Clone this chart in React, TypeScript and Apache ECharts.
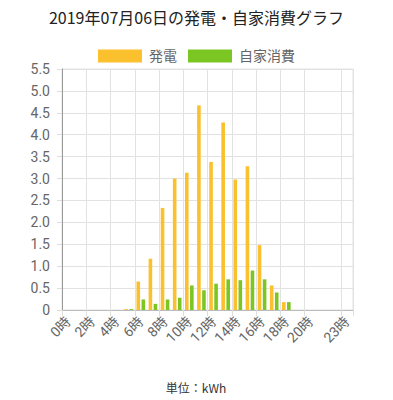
import React, { useEffect, useRef } from "react";
import * as echarts from "echarts";

const hours = [
  "0時", "1時", "2時", "3時", "4時", "5時", "6時", "7時", "8時", "9時", "10時", "11時",
  "12時", "13時", "14時", "15時", "16時", "17時", "18時", "19時", "20時", "21時", "22時", "23時",
];
const generation = [0, 0, 0, 0, 0, 0.02, 0.65, 1.17, 2.33, 3.0, 3.13, 4.67, 3.38, 4.28, 2.98, 3.28, 1.48, 0.56, 0.18, 0, 0, 0, 0, 0];
const consumption = [0, 0, 0, 0, 0, 0.02, 0.24, 0.14, 0.24, 0.28, 0.56, 0.45, 0.6, 0.7, 0.68, 0.9, 0.7, 0.4, 0.18, 0, 0, 0, 0, 0];
const seriesNames = ["発電", "自家消費"];
const titleText = "2019年07月06日の発電・自家消費グラフ";
const unitText = "単位：kWh";

const ORANGE = "#FBC02D";
const GREEN = "#7CC623";
const FONT = "Roboto, 'Noto Sans CJK JP', sans-serif";

const shownIdx = (i: number) => (i % 2 === 0 && i <= 20) || i === 23;

export default function App() {
  const ref = useRef<HTMLDivElement>(null);
  useEffect(() => {
    if (!ref.current) return;
    const chart = echarts.init(ref.current, null, { renderer: "svg" });
    chart.setOption({
      animation: false,
      backgroundColor: "#ffffff",
      title: {
        text: titleText,
        left: "center",
        top: 4,
        textStyle: { fontSize: 16, fontWeight: "normal", color: "#222", fontFamily: "'Noto Sans CJK JP', sans-serif" },
      },
      legend: {
        top: 44,
        left: "center",
        itemWidth: 44,
        itemHeight: 13,
        itemGap: 11,
        icon: "rect",
        textStyle: { fontSize: 14, color: "#666", fontFamily: FONT, padding: [0, 0, 0, 2] },
        data: seriesNames,
      },
      grid: {
        left: 62,
        right: 40,
        top: 69,
        bottom: 90,
        show: true,
        borderColor: "#e2e2e2",
        borderWidth: 1,
      },
      xAxis: {
        type: "category",
        data: hours,
        boundaryGap: true,
        axisLine: { show: true, lineStyle: { color: "#bbb" } },
        axisTick: { show: true, length: 6, interval: (i: number) => shownIdx(i), lineStyle: { color: "#ddd" } },
        splitLine: { show: true, interval: (i: number) => shownIdx(i), lineStyle: { color: "#e2e2e2" } },
        axisLabel: {
          interval: (i: number) => shownIdx(i),
          rotate: 45,
          fontSize: 14,
          color: "#666",
          fontFamily: FONT,
          margin: 9,
        },
      },
      yAxis: {
        type: "value",
        min: 0,
        max: 5.5,
        interval: 0.5,
        axisLine: { show: true, lineStyle: { color: "#999" } },
        axisTick: { show: true, length: 5, lineStyle: { color: "#ddd" } },
        splitLine: { show: true, lineStyle: { color: "#e2e2e2" } },
        axisLabel: {
          fontSize: 14,
          color: "#666",
          fontFamily: FONT,
          margin: 12,
          formatter: (v: number) => (v === 0 ? "0" : v.toFixed(1)),
        },
      },
      series: [
        {
          name: seriesNames[0],
          type: "bar",
          data: generation,
          barWidth: 3.6,
          barGap: "40%",
          itemStyle: { color: ORANGE },
        },
        {
          name: seriesNames[1],
          type: "bar",
          data: consumption,
          barWidth: 3.6,
          barGap: "40%",
          itemStyle: { color: GREEN },
        },
      ],
      graphic: [
        {
          type: "text",
          x: 196,
          y: 387,
          style: {
            text: unitText,
            fontSize: 12,
            fill: "#333",
            fontFamily: "'Noto Sans CJK JP', sans-serif",
            textAlign: "center",
            textVerticalAlign: "middle",
          },
        },
      ],
    });
    return () => chart.dispose();
  }, []);
  return <div ref={ref} style={{ position: "fixed", left: 0, top: 0, width: 393, height: 400 }} />;
}
